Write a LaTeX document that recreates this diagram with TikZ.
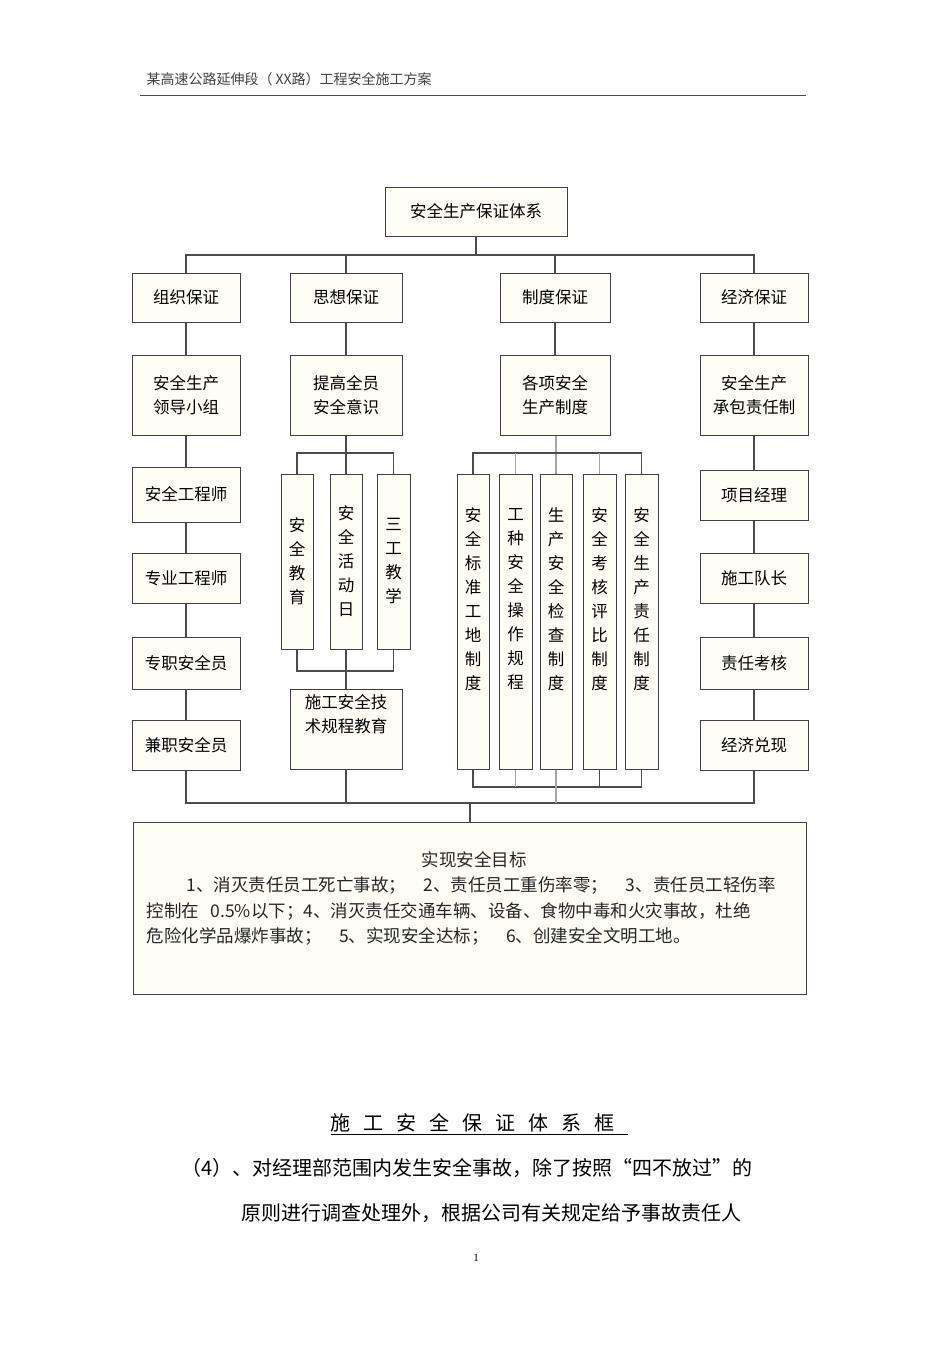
\documentclass[tikz,border=0pt]{standalone}
\usepackage{fontspec}
\setmainfont{Liberation Serif}
\newfontfamily\cjk{Noto Sans CJK SC}
\begin{document}
\begin{tikzpicture}[x=1pt,y=-1pt,
  bx/.style={draw=black!75,fill={rgb,255:red,254;green,254;blue,246},line width=1pt,inner sep=0pt,font=\cjk\fontsize{16.5}{24}\selectfont,align=center},
  ln/.style={draw=black!70,line width=1.1pt},
  gl/.style={draw=black!35,line width=1.1pt}]
\useasboundingbox (0,0) rectangle (950,1345);
\newcommand\bxat[4]{\node[bx,minimum width={#3-#1},minimum height={#4-#2}] at ({(#1+#3)/2},{(#2+#4)/2})}
\node[font=\cjk\fontsize{14}{16}\selectfont,anchor=west,text=black!75] (hdr) at (143,79) {某高速公路延伸段（ XX路）工程安全施工方案};
\coordinate (hl) at (140,95); \coordinate (hr) at (806,95);
\draw[black!70,line width=0.8pt] (hl)--(hr);
\bxat{385}{187}{567}{236} (t) {安全生产保证体系};
\bxat{132}{273}{240}{322} (a1) {组织保证};
\bxat{290}{273}{402}{322} (b1) {思想保证};
\bxat{500}{273}{610}{322} (c1) {制度保证};
\bxat{700}{273}{808}{322} (d1) {经济保证};
\bxat{132}{355}{240}{435} (a2) {安全生产\\领导小组};
\bxat{290}{355}{402}{435} (b2) {提高全员\\安全意识};
\bxat{500}{355}{610}{435} (c2) {各项安全\\生产制度};
\bxat{700}{355}{808}{435} (d2) {安全生产\\承包责任制};
\bxat{132}{467}{240}{522} (a3) {安全工程师};
\bxat{132}{553}{240}{603} (a4) {专业工程师};
\bxat{132}{637}{240}{689} (a5) {专职安全员};
\bxat{132}{720}{240}{770} (a6) {兼职安全员};
\bxat{700}{470}{808}{520} (d3) {项目经理};
\bxat{700}{553}{808}{603} (d4) {施工队长};
\bxat{700}{637}{808}{689} (d5) {责任考核};
\bxat{700}{720}{808}{770} (d6) {经济兑现};
\bxat{281}{474}{313}{649} (b3) {安\\全\\教\\育};
\bxat{330}{474}{362}{649} (b4) {安\\全\\活\\动\\日};
\bxat{377}{474}{410}{649} (b5) {三\\工\\教\\学};
\node[bx,minimum width=112,minimum height=80,align=left] (b6) at (346,729) {施工安全技\\术规程教育\\[8pt]};
\bxat{457}{474}{489}{769} (c3) {安\\全\\标\\准\\工\\地\\制\\度\\[22pt]};
\bxat{499}{474}{532}{769} (c4) {工\\种\\安\\全\\操\\作\\规\\程\\[22pt]};
\bxat{540}{474}{572}{769} (c5) {生\\产\\安\\全\\检\\查\\制\\度\\[22pt]};
\bxat{583}{474}{616}{769} (c6) {安\\全\\考\\核\\评\\比\\制\\度\\[22pt]};
\bxat{625}{474}{658}{769} (c7) {安\\全\\生\\产\\责\\任\\制\\度\\[22pt]};
\bxat{133}{822}{806}{994} (g) {};
\node[font=\cjk\fontsize{17.5}{25.5}\selectfont,align=left,anchor=north west,text width=655,text=black!85] (gt) at (143,848) {\hfill 实现安全目标\hfill\null\\
\hspace*{40pt}1、消灭责任员工死亡事故；\quad 2、责任员工重伤率零；\quad 3、责任员工轻伤率\\
控制在 \ 0.5\%以下；4、消灭责任交通车辆、设备、食物中毒和火灾事故，杜绝\\
危险化学品爆炸事故；\quad 5、实现安全达标；\quad 6、创建安全文明工地。};
% top bus
\coordinate (tb) at (475,255);
\draw[ln] (t.south)--(t.south |- tb);
\draw[ln] (a1.north) |- (d1.north |- tb) -- (d1.north);
\draw[ln] (b1.north) -- (b1.north |- tb);
\draw[ln] (c1.north) -- (c1.north |- tb);
% vertical chains
\draw[ln] (a1)--(a2); \draw[ln] (a2)--(a3); \draw[ln] (a3)--(a4); \draw[ln] (a4)--(a5); \draw[ln] (a5)--(a6);
\draw[ln] (d1)--(d2); \draw[ln] (d2)--(d3); \draw[ln] (d3)--(d4); \draw[ln] (d4)--(d5); \draw[ln] (d5)--(d6);
\draw[ln] (b1)--(b2); \draw[ln] (c1)--(c2);
% thinking brackets
\coordinate (bt) at (346,453); \coordinate (bb) at (346,671);
\draw[ln] (b2.south)--(b4.north);
\draw[ln] (b3.north) |- (b5.north |- bt) -- (b5.north);
\draw[ln] (b3.south) |- (b5.south |- bb) -- (b5.south);
\draw[ln] (b4.south)--(b6.north);
% system brackets
\coordinate (ct) at (556,453); \coordinate (cb) at (556,787);
\draw[gl] (c5.north |- c2.south)--(c5.north);
\draw[ln] (c3.north) |- (c7.north |- ct) -- (c7.north);
\draw[gl] (c4.north) -- (c4.north |- ct);
\draw[gl] (c6.north) -- (c6.north |- ct);
\draw[ln] (c3.south) |- (c7.south |- cb) -- (c7.south);
\draw[gl] (c4.south) -- (c4.south |- cb);
\draw[ln] (c6.south) -- (c6.south |- cb);
% bottom bus
\coordinate (bbus) at (470,803);
\draw[ln] (a6.south) |- (d6.south |- bbus) -- (d6.south);
\draw[ln] (b6.south) -- (b6.south |- bbus);
\draw[gl] (c5.south) -- (c5.south |- bbus);
\draw[ln] (bbus) -- (g.north -| bbus);
% caption
\node[font=\cjk\fontsize{20}{22}\selectfont] (cap) at (479,1124) {\underline{施\hspace{13pt}工\hspace{13pt}安\hspace{13pt}全\hspace{13pt}保\hspace{13pt}证\hspace{13pt}体\hspace{13pt}系\hspace{13pt}框\hspace{13pt}}};
\node[font=\cjk\fontsize{20}{22}\selectfont,anchor=west] (p1) at (178,1168) {（4）、对经理部范围内发生安全事故，除了按照“四不放过”的};
\node[font=\cjk\fontsize{20}{22}\selectfont,anchor=west] (p2) at (238,1213) {原则进行调查处理外，根据公司有关规定给予事故责任人};
\node[font=\fontsize{11}{12}\selectfont] (pn) at (476,1258) {1};
\end{tikzpicture}
\end{document}
